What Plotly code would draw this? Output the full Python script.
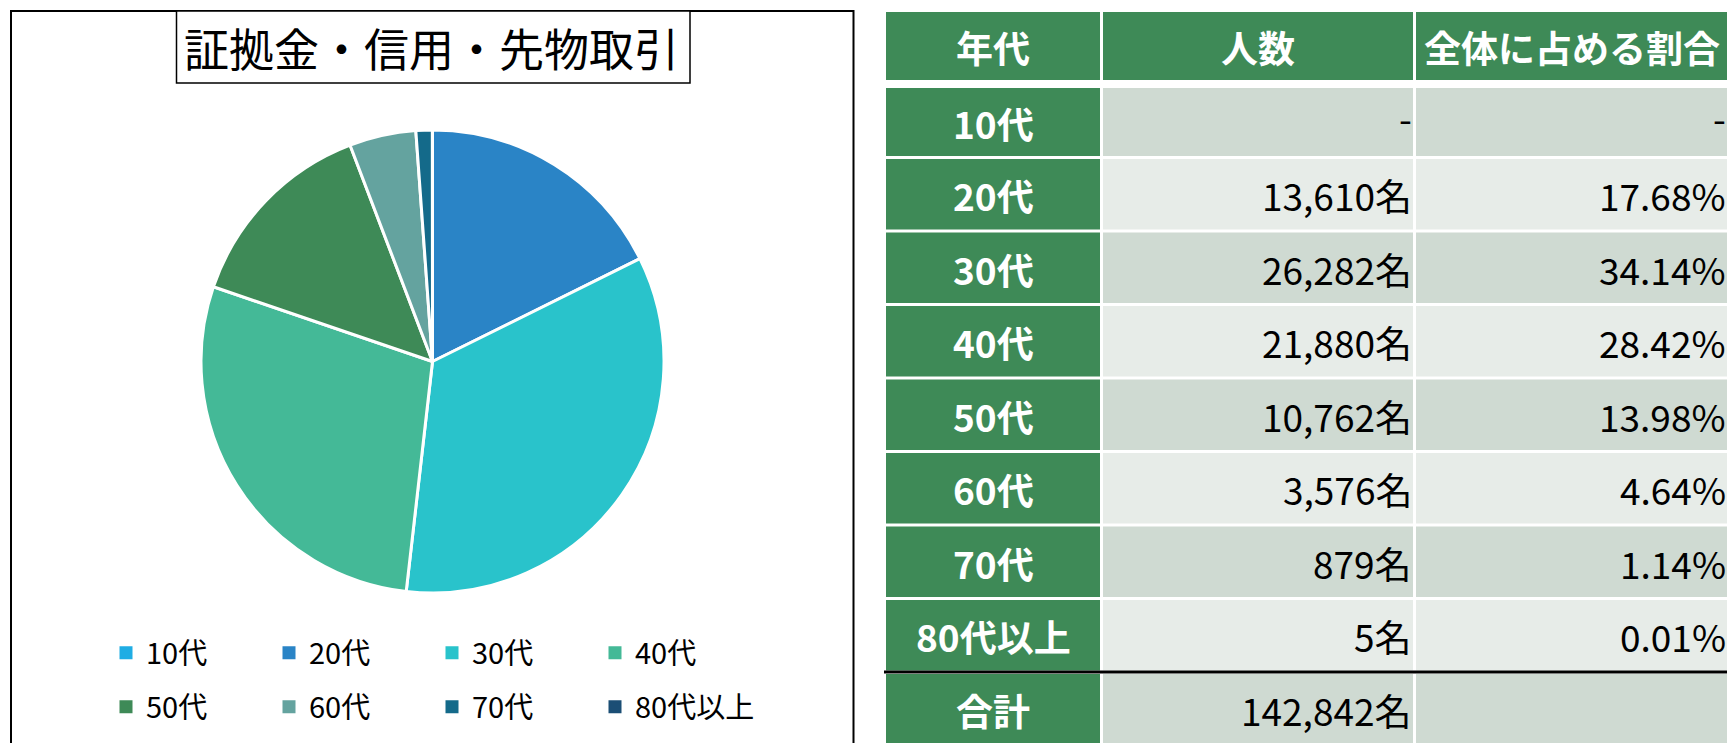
import plotly.graph_objects as go

# ---- data -------------------------------------------------------------
title_text = "証拠金・信用・先物取引"
age_groups = ["10代", "20代", "30代", "40代", "50代", "60代", "70代", "80代以上"]
people = [0, 13610, 26282, 21880, 10762, 3576, 879, 5]
header_labels = ["年代", "人数", "全体に占める割合"]
total_label = "合計"
total_people_text = "142,842名"

slice_colors = ["#1FADE4", "#2A84C6", "#29C3CB", "#44B997",
                "#3E8A57", "#64A39F", "#146A8A", "#1B4E75"]

# ---- derived texts ----------------------------------------------------
people_sum = sum(people)
people_text = [f"{p:,}名" if p > 0 else "-" for p in people]
share_text = [f"{p / people_sum * 100:.2f}%" if p > 0 else "-" for p in people]

W, H = 1727, 743
FONT = "Noto Sans CJK JP"
GREEN = "#3E8A57"
ROW_DARK = "#CFDAD2"
ROW_LIGHT = "#E7ECE8"

fig = go.Figure()

# ---- pie ---------------------------------------------------------------
cx, cy, r = 432.5, 361.5, 231.5
fig.add_trace(go.Pie(
    labels=age_groups,
    values=people,
    sort=False,
    direction="clockwise",
    rotation=0,
    marker=dict(colors=slice_colors, line=dict(color="white", width=3)),
    textinfo="none",
    hoverinfo="label+percent",
    showlegend=False,
    domain=dict(x=[(cx - r) / W, (cx + r) / W],
                y=[(H - cy - r) / H, (H - cy + r) / H]),
))

# ---- legend entries (two rows of four) --------------------------------
for i, (name, col) in enumerate(zip(age_groups, slice_colors)):
    fig.add_trace(go.Scatter(
        x=[None], y=[None], mode="markers", name=name,
        marker=dict(symbol="square", size=13, color=col),
        legend="legend" if i < 4 else "legend2",
        xaxis="x", yaxis="y",
    ))

legend_common = dict(
    orientation="h", xanchor="left", yanchor="middle",
    entrywidth=118, entrywidthmode="pixels",
    font=dict(family=FONT, size=29, color="black"),
    bgcolor="rgba(0,0,0,0)", borderwidth=0,
    itemclick=False, itemdoubleclick=False,
)
legend_x = 106 / W

shapes = []
annotations = []

# ---- chart panel and title box ----------------------------------------
shapes.append(dict(type="rect", xref="x", yref="y", x0=11, y0=11, x1=853.5, y1=800,
                   line=dict(color="black", width=2), fillcolor="rgba(0,0,0,0)",
                   layer="below"))
shapes.append(dict(type="rect", xref="x", yref="y", x0=176.5, y0=11, x1=690, y1=83,
                   line=dict(color="black", width=1.5), fillcolor="white",
                   layer="below"))
annotations.append(dict(xref="x", yref="y", x=431, y=47, text=title_text,
                        showarrow=False, xanchor="center", yanchor="middle",
                        font=dict(family=FONT, size=45, color="black")))

# ---- table -------------------------------------------------------------
col_bounds = [(886, 1100), (1103, 1413), (1416, 1727)]
header_top, header_bottom = 12, 80
first_row_top = 88
sep_first = 157.5          # centre of the first white separator
row_pitch = 73.5
gap = 3


def row_span(i):
    top = first_row_top if i == 0 else sep_first + (i - 1) * row_pitch + gap / 2
    bottom = sep_first + i * row_pitch - gap / 2
    return top, bottom


def add_text(x, y, text, anchor, bold, color, xshift=0, yshift=0):
    annotations.append(dict(
        xref="x", yref="y", x=x, y=y, text=f"<b>{text}</b>" if bold else text,
        showarrow=False, xanchor=anchor, yanchor="middle",
        xshift=xshift, yshift=yshift,
        font=dict(family=FONT, size=37, color=color)))


# header
for (x0, x1), lab in zip(col_bounds, header_labels):
    shapes.append(dict(type="rect", xref="x", yref="y", x0=x0, x1=x1,
                       y0=header_top, y1=header_bottom, line=dict(width=0),
                       fillcolor=GREEN, layer="below"))
    add_text((x0 + x1) / 2, (header_top + header_bottom) / 2 + 1, lab,
             "center", True, "white")

# body rows + total row
row_labels = age_groups + [total_label]
row_people = people_text + [total_people_text]
row_share = share_text + [""]
for i, (lab, ptxt, stxt) in enumerate(zip(row_labels, row_people, row_share)):
    top, bottom = row_span(i)
    if i == len(age_groups):
        bottom = H + 10
        top = sep_first + (i - 1) * row_pitch + 2
    fill = ROW_DARK if i % 2 == 0 else ROW_LIGHT
    for c, (x0, x1) in enumerate(col_bounds):
        shapes.append(dict(type="rect", xref="x", yref="y", x0=x0, x1=x1,
                           y0=top, y1=bottom, line=dict(width=0),
                           fillcolor=GREEN if c == 0 else fill, layer="below"))
    yc = (top + min(bottom, top + 70)) / 2 + 1
    add_text(sum(col_bounds[0]) / 2, yc, lab, "center", True, "white")
    add_text(col_bounds[1][1] - 1, yc, ptxt, "right", False, "black",
             xshift=2, yshift=6 if ptxt == "-" else 0)
    if stxt:
        add_text(col_bounds[2][1] - 1, yc, stxt, "right", False, "black",
                 xshift=2, yshift=6 if stxt == "-" else 0)

# rule above the total row
rule_y = sep_first + (len(age_groups) - 1) * row_pitch
shapes.append(dict(type="line", xref="x", yref="y", x0=884, x1=W, y0=rule_y, y1=rule_y,
                   line=dict(color="black", width=3), layer="below"))

fig.update_layout(
    width=W, height=H,
    margin=dict(l=0, r=0, t=0, b=0),
    paper_bgcolor="white", plot_bgcolor="rgba(0,0,0,0)",
    xaxis=dict(range=[0, W], visible=False, fixedrange=True, domain=[0, 1]),
    yaxis=dict(range=[H, 0], visible=False, fixedrange=True, domain=[0, 1]),
    legend=dict(legend_common, x=legend_x, y=(H - 653) / H),
    legend2=dict(legend_common, x=legend_x, y=(H - 707) / H),
    shapes=shapes,
    annotations=annotations,
    showlegend=True,
)

fig.write_html("out.html")
